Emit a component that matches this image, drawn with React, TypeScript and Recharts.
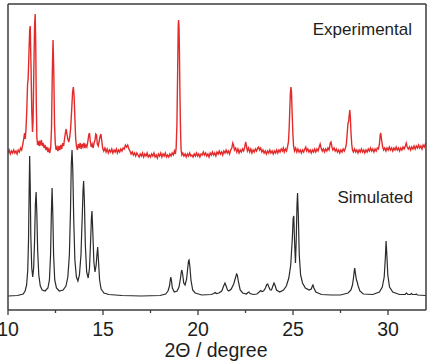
import { LineChart, Line, XAxis, YAxis } from "recharts";

// 2-theta axis ticks
const majorTicks = [10, 15, 20, 25, 30];
const allTicks = [10, 12.5, 15, 17.5, 20, 22.5, 25, 27.5, 30];

// measured powder pattern: [2theta, counts]
const experimental: [number, number][] = [
  [10.0, 157], [10.06, 160], [10.12, 156], [10.18, 159], [10.24, 157], [10.3, 160], [10.36, 157], [10.42, 159],
  [10.48, 156], [10.54, 160], [10.6, 158], [10.66, 162], [10.72, 160], [10.78, 166], [10.82, 170], [10.87, 177],
  [10.91, 171], [10.95, 182], [10.99, 200], [11.03, 226], [11.06, 231], [11.1, 255], [11.14, 280], [11.17, 284],
  [11.21, 245], [11.25, 200], [11.29, 178], [11.32, 190], [11.36, 240], [11.4, 285], [11.43, 296], [11.46, 265],
  [11.49, 205], [11.52, 172], [11.56, 165], [11.6, 169], [11.64, 164], [11.68, 168], [11.72, 166], [11.76, 170],
  [11.8, 164], [11.85, 167], [11.9, 162], [11.95, 165], [12.0, 160], [12.05, 163], [12.1, 158], [12.15, 161],
  [12.2, 157], [12.25, 163], [12.29, 182], [12.33, 235], [12.37, 270], [12.41, 238], [12.45, 185], [12.49, 166],
  [12.53, 160], [12.58, 163], [12.63, 159], [12.68, 164], [12.73, 160], [12.78, 165], [12.83, 161], [12.88, 167],
  [12.93, 164], [12.98, 172], [13.02, 177], [13.06, 181], [13.1, 176], [13.15, 171], [13.2, 168], [13.25, 173],
  [13.3, 182], [13.35, 200], [13.4, 218], [13.44, 223], [13.48, 214], [13.52, 192], [13.56, 172], [13.6, 164],
  [13.65, 160], [13.7, 166], [13.75, 162], [13.8, 167], [13.85, 161], [13.9, 166], [13.95, 163], [14.0, 167],
  [14.05, 162], [14.1, 165], [14.15, 163], [14.2, 168], [14.25, 175], [14.29, 177], [14.33, 169], [14.38, 163],
  [14.43, 166], [14.48, 162], [14.53, 167], [14.58, 170], [14.62, 176], [14.66, 175], [14.7, 166], [14.75, 164],
  [14.8, 169], [14.85, 174], [14.89, 176], [14.93, 170], [14.98, 162], [15.04, 159], [15.1, 162], [15.16, 158],
  [15.22, 161], [15.28, 157], [15.34, 160], [15.4, 158], [15.46, 161], [15.52, 157], [15.58, 160], [15.64, 158],
  [15.7, 161], [15.76, 157], [15.82, 160], [15.88, 158], [15.94, 161], [16.0, 159], [16.06, 162], [16.12, 161],
  [16.18, 165], [16.24, 163], [16.3, 165], [16.36, 161], [16.42, 159], [16.48, 156], [16.54, 158], [16.6, 155],
  [16.66, 157], [16.72, 154], [16.78, 157], [16.84, 155], [16.9, 153], [16.96, 156], [17.02, 154], [17.08, 157],
  [17.14, 153], [17.2, 156], [17.26, 154], [17.32, 157], [17.38, 153], [17.44, 155], [17.5, 153], [17.56, 156],
  [17.62, 154], [17.68, 157], [17.74, 153], [17.8, 155], [17.86, 152], [17.92, 156], [17.98, 154], [18.04, 157],
  [18.1, 153], [18.16, 156], [18.22, 154], [18.28, 157], [18.34, 153], [18.4, 155], [18.46, 153], [18.52, 156],
  [18.58, 154], [18.64, 157], [18.7, 155], [18.76, 159], [18.81, 156], [18.85, 162], [18.89, 185], [18.93, 240],
  [18.96, 285], [18.98, 290], [19.0, 283], [19.02, 262], [19.05, 215], [19.08, 180], [19.11, 160], [19.15, 155],
  [19.2, 157], [19.26, 154], [19.32, 156], [19.38, 153], [19.44, 156], [19.5, 154], [19.56, 157], [19.62, 154],
  [19.68, 155], [19.74, 153], [19.8, 156], [19.86, 154], [19.92, 157], [19.98, 154], [20.04, 156], [20.1, 153],
  [20.16, 156], [20.22, 155], [20.28, 158], [20.34, 155], [20.4, 157], [20.46, 154], [20.52, 156], [20.58, 153],
  [20.64, 157], [20.7, 155], [20.76, 158], [20.82, 155], [20.88, 157], [20.94, 154], [21.0, 158], [21.06, 156],
  [21.12, 159], [21.18, 156], [21.24, 158], [21.3, 155], [21.36, 159], [21.42, 157], [21.48, 160], [21.54, 157],
  [21.6, 159], [21.66, 156], [21.72, 160], [21.78, 162], [21.83, 167], [21.87, 165], [21.92, 160], [21.98, 162],
  [22.04, 158], [22.1, 161], [22.16, 157], [22.22, 160], [22.28, 158], [22.34, 161], [22.4, 159], [22.46, 163],
  [22.51, 168], [22.55, 164], [22.6, 159], [22.66, 162], [22.72, 158], [22.78, 161], [22.84, 157], [22.9, 160],
  [22.96, 158], [23.02, 161], [23.08, 159], [23.14, 162], [23.19, 163], [23.24, 160], [23.3, 162], [23.36, 158],
  [23.42, 160], [23.48, 157], [23.54, 159], [23.6, 156], [23.66, 159], [23.72, 157], [23.78, 160], [23.84, 157],
  [23.9, 159], [23.96, 156], [24.02, 159], [24.08, 157], [24.14, 160], [24.2, 157], [24.26, 160], [24.32, 158],
  [24.38, 161], [24.44, 159], [24.49, 162], [24.54, 158], [24.6, 161], [24.66, 159], [24.71, 163], [24.76, 168],
  [24.8, 182], [24.83, 200], [24.86, 216], [24.89, 223], [24.92, 218], [24.95, 200], [24.99, 178], [25.03, 164],
  [25.08, 159], [25.14, 162], [25.2, 158], [25.26, 161], [25.32, 158], [25.38, 160], [25.44, 157], [25.5, 160],
  [25.56, 158], [25.62, 161], [25.67, 163], [25.72, 159], [25.78, 161], [25.84, 158], [25.9, 160], [25.96, 157],
  [26.02, 160], [26.08, 158], [26.14, 161], [26.2, 158], [26.26, 161], [26.32, 159], [26.38, 163], [26.43, 166],
  [26.48, 162], [26.54, 159], [26.6, 161], [26.66, 158], [26.72, 161], [26.78, 159], [26.84, 162], [26.9, 160],
  [26.96, 167], [27.0, 168], [27.05, 163], [27.1, 160], [27.16, 162], [27.22, 159], [27.28, 161], [27.34, 158],
  [27.4, 160], [27.46, 157], [27.52, 160], [27.58, 158], [27.64, 161], [27.7, 159], [27.76, 162], [27.81, 166],
  [27.85, 176], [27.89, 186], [27.93, 189], [27.96, 195], [27.99, 200], [28.02, 192], [28.05, 178], [28.09, 166],
  [28.13, 160], [28.18, 158], [28.24, 161], [28.3, 158], [28.36, 160], [28.42, 157], [28.48, 160], [28.54, 158],
  [28.6, 161], [28.66, 158], [28.72, 160], [28.78, 157], [28.84, 160], [28.9, 158], [28.96, 161], [29.02, 159],
  [29.08, 162], [29.14, 159], [29.2, 161], [29.26, 158], [29.32, 161], [29.38, 159], [29.44, 162], [29.5, 161],
  [29.55, 166], [29.59, 175], [29.62, 177], [29.65, 172], [29.68, 168], [29.72, 163], [29.77, 160], [29.83, 162],
  [29.89, 159], [29.95, 162], [30.01, 160], [30.07, 163], [30.13, 160], [30.19, 162], [30.25, 159], [30.31, 162],
  [30.37, 160], [30.43, 163], [30.49, 160], [30.55, 162], [30.61, 159], [30.67, 162], [30.73, 160], [30.79, 163],
  [30.85, 161], [30.91, 164], [30.96, 167], [31.01, 163], [31.07, 161], [31.13, 163], [31.19, 160], [31.25, 163],
  [31.31, 161], [31.37, 164], [31.43, 161], [31.49, 164], [31.55, 162], [31.61, 165], [31.67, 162], [31.73, 164],
  [31.79, 161], [31.85, 165], [31.91, 163], [31.97, 166], [32.0, 165],
];

// pattern calculated from the crystal structure: [2theta, counts]
const simulated: [number, number][] = [
  [10.0, 14], [10.5, 14.5], [10.8, 16], [10.9, 19], [10.98, 25], [11.04, 40], [11.08, 70], [11.11, 115],
  [11.14, 154], [11.17, 125], [11.2, 75], [11.25, 42], [11.3, 33], [11.35, 42], [11.4, 70], [11.44, 105],
  [11.48, 118], [11.52, 95], [11.56, 60], [11.62, 35], [11.7, 24], [11.8, 20], [11.95, 19], [12.1, 22],
  [12.18, 30], [12.24, 55], [12.28, 95], [12.32, 122], [12.36, 95], [12.4, 55], [12.46, 30], [12.55, 22],
  [12.7, 19], [12.9, 20], [13.05, 24], [13.15, 33], [13.23, 55], [13.29, 100], [13.33, 145], [13.37, 160],
  [13.41, 140], [13.46, 90], [13.52, 50], [13.6, 33], [13.68, 29], [13.76, 35], [13.84, 55], [13.91, 95],
  [13.95, 120], [13.98, 129], [14.02, 110], [14.07, 65], [14.14, 38], [14.22, 32], [14.29, 42], [14.35, 70],
  [14.39, 92], [14.42, 99], [14.46, 80], [14.52, 48], [14.58, 38], [14.64, 45], [14.68, 55], [14.72, 63],
  [14.76, 50], [14.82, 30], [14.9, 21], [15.05, 17], [15.3, 15.5], [16.0, 14.5], [17.0, 14], [18.0, 14.5],
  [18.3, 16], [18.42, 19], [18.5, 24], [18.54, 30], [18.57, 33], [18.6, 30], [18.65, 22], [18.75, 18],
  [18.9, 19], [19.0, 23], [19.08, 32], [19.12, 38], [19.15, 40], [19.19, 36], [19.25, 27], [19.32, 25],
  [19.4, 31], [19.46, 42], [19.5, 49], [19.53, 50], [19.57, 44], [19.63, 30], [19.72, 20], [19.85, 17],
  [20.2, 15], [20.7, 15.5], [20.83, 16.5], [20.9, 17.5], [20.97, 16.5], [21.1, 17], [21.25, 19], [21.35, 24],
  [21.42, 27], [21.48, 24], [21.55, 20], [21.62, 19], [21.75, 21], [21.88, 26], [21.97, 32], [22.03, 36],
  [22.07, 35], [22.13, 28], [22.22, 20], [22.35, 17], [22.55, 16], [22.63, 17.5], [22.68, 18], [22.74, 16.5],
  [22.9, 15.5], [23.1, 16], [23.22, 18], [23.3, 19.5], [23.37, 18.5], [23.45, 19], [23.55, 22], [23.62, 25.5],
  [23.67, 26], [23.73, 23], [23.8, 20], [23.87, 20], [23.94, 24], [24.0, 27], [24.05, 25], [24.13, 20],
  [24.3, 18], [24.5, 20], [24.65, 24], [24.78, 32], [24.88, 45], [24.96, 70], [25.01, 92], [25.04, 94],
  [25.08, 70], [25.13, 47], [25.17, 70], [25.21, 105], [25.24, 117], [25.28, 95], [25.33, 55], [25.4, 35],
  [25.5, 27], [25.65, 22], [25.85, 20], [25.96, 21], [26.02, 24], [26.05, 25], [26.1, 22], [26.2, 18],
  [26.5, 15.5], [27.0, 15], [27.5, 15], [27.9, 17], [28.05, 20], [28.13, 25], [28.19, 33], [28.23, 40],
  [28.25, 42], [28.29, 36], [28.34, 30], [28.38, 28], [28.43, 24], [28.52, 19], [28.7, 16], [29.2, 15.5],
  [29.55, 18], [29.7, 23], [29.8, 33], [29.86, 52], [29.9, 69], [29.94, 55], [29.99, 35], [30.08, 23],
  [30.25, 18], [30.6, 15.5], [30.9, 15.5], [30.97, 17], [31.05, 15.5], [31.18, 15.5], [31.23, 16.5], [31.3, 15.5],
  [31.45, 15.5], [31.49, 16], [31.55, 15], [32.0, 14.5],
];

const toPoints = (rows: [number, number][]) =>
  rows.map(([theta, counts]) => ({ theta, counts }));

const FONT = "'Liberation Sans', Arial, sans-serif";
const FRAME = "#3c3c3c";

// outward tick mark; only the whole-five values get a number under them
function ThetaTick({ x, y, payload }: any) {
  const major = majorTicks.includes(payload.value);
  return (
    <g>
      <line x1={x} x2={x} y1={y} y2={y + (major ? 5 : 3)} stroke={FRAME} strokeWidth={1.3} />
      {major && (
        <text x={x} y={y + 26} textAnchor="middle" fill="#1e1e1e" fontSize={19.5} fontFamily={FONT}>
          {payload.value}
        </text>
      )}
    </g>
  );
}

export default function App() {
  return (
    <div style={{ position: "relative", width: 429, height: 361, fontFamily: FONT, color: "#1e1e1e" }}>
      <style>{"body{margin:0}"}</style>
      <LineChart width={429} height={361} margin={{ top: 3, right: 2, bottom: 21, left: 7 }}>
        <XAxis
          type="number"
          dataKey="theta"
          domain={[10, 32]}
          ticks={allTicks}
          interval={0}
          height={30}
          tickSize={0}
          tickMargin={0}
          tickLine={false}
          tick={<ThetaTick />}
          stroke={FRAME}
          strokeWidth={1.5}
          allowDataOverflow
        />
        <XAxis
          xAxisId="top"
          orientation="top"
          type="number"
          dataKey="theta"
          domain={[10, 32]}
          ticks={majorTicks}
          height={1}
          tick={false}
          tickLine={false}
          stroke={FRAME}
          strokeWidth={1.5}
          allowDataOverflow
        />
        <YAxis
          type="number"
          domain={[0, 306]}
          ticks={[0, 306]}
          width={1}
          tick={false}
          tickLine={false}
          stroke={FRAME}
          strokeWidth={1.5}
          allowDataOverflow
        />
        <YAxis
          yAxisId="right"
          orientation="right"
          type="number"
          domain={[0, 306]}
          ticks={[0, 306]}
          width={1}
          tick={false}
          tickLine={false}
          stroke={FRAME}
          strokeWidth={1.5}
          allowDataOverflow
        />
        <Line
          data={toPoints(simulated)}
          dataKey="counts"
          type="linear"
          stroke="#2a2a2a"
          strokeWidth={1.2}
          dot={false}
          isAnimationActive={false}
        />
        <Line
          data={toPoints(experimental)}
          dataKey="counts"
          type="linear"
          stroke="#e42b2b"
          strokeWidth={1.4}
          dot={false}
          isAnimationActive={false}
        />
      </LineChart>
      <div style={{ position: "absolute", right: 17, top: 21, fontSize: 17, lineHeight: "17px" }}>
        Experimental
      </div>
      <div style={{ position: "absolute", right: 16, top: 189, fontSize: 17, lineHeight: "17px" }}>
        Simulated
      </div>
      <div
        style={{
          position: "absolute",
          left: 0,
          width: 432,
          top: 341,
          textAlign: "center",
          fontSize: 19.5,
          lineHeight: "19.5px",
          whiteSpace: "nowrap",
        }}
      >
        2Θ / degree
      </div>
    </div>
  );
}
